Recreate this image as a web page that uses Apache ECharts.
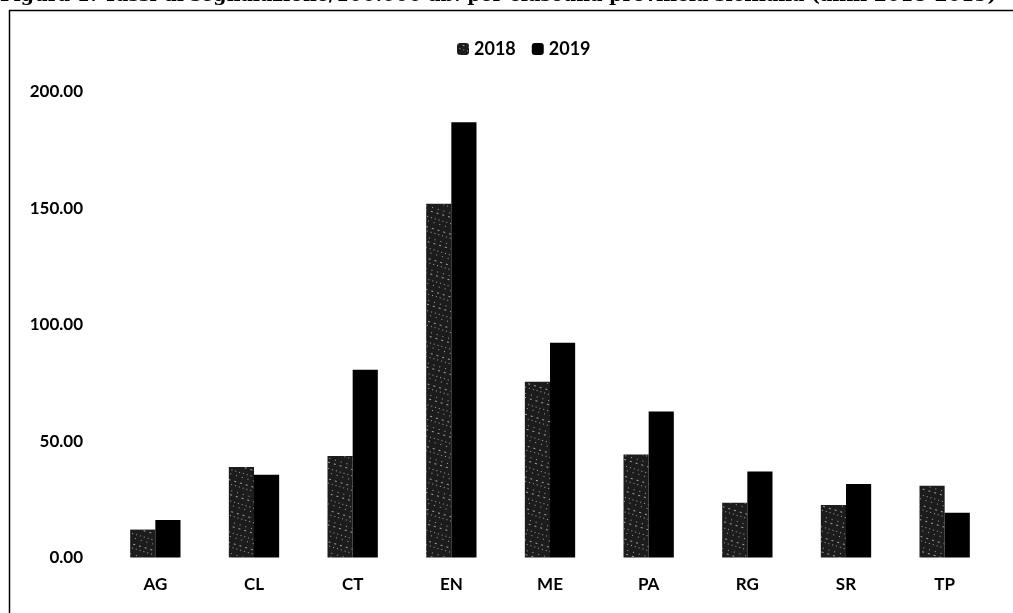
<!DOCTYPE html>
<html>
<head>
<meta charset="utf-8">
<script src="https://cdn.jsdelivr.net/npm/echarts@6/dist/echarts.min.js"></script>
<style>
  html, body { margin: 0; padding: 0; background: #fff; }
  #chart { width: 1013px; height: 613px; }
</style>
</head>
<body>
<div id="chart"></div>
<script>
// Reporting rates per 100,000 inhabitants, by Sicilian province
const provinces = ['AG', 'CL', 'CT', 'EN', 'ME', 'PA', 'RG', 'SR', 'TP'];
const rates2018 = [12.0, 38.9, 43.6, 152.0, 75.5, 44.2, 23.5, 22.6, 30.8];
const rates2019 = [16.1, 35.6, 80.7, 187.0, 92.3, 62.7, 37.0, 31.6, 19.2];
const yTicks = [0, 50, 100, 150, 200];
const seriesNames = ['2018', '2019'];
const figureTitle = 'Figura 1: Tassi di segnalazione/100.000 ab. per ciascuna provincia siciliana (anni 2018-2019)';

const labelFont = { fontFamily: 'Lato', fontWeight: 'bold', fontSize: 17, color: '#000' };

// speckled fill for the 2018 bars
const speckle = {
  symbol: 'rect',
  symbolSize: 0.8,
  color: 'rgba(255,255,255,0.75)',
  dashArrayX: [[1, 3], [1, 5], [2, 4]],
  dashArrayY: [1, 3, 1, 5],
  rotation: 0.3
};

const chart = echarts.init(document.getElementById('chart'), null, { renderer: 'canvas' });
chart.setOption({
  animation: false,
  backgroundColor: '#fff',
  aria: { enabled: false },
  graphic: [
    {
      type: 'text',
      left: 0,
      top: -13,
      style: {
        text: figureTitle,
        fontFamily: 'DejaVu Serif',
        fontWeight: 'bold',
        fontSize: 19,
        fill: '#000'
      }
    },
    {
      type: 'rect',
      shape: { x: 9.5, y: 10.5, width: 1020, height: 640 },
      style: { fill: 'none', stroke: '#000', lineWidth: 1.5 }
    }
  ],
  legend: {
    data: seriesNames,
    top: 35,
    left: 452,
    itemWidth: 12,
    itemHeight: 12,
    itemGap: 16,
    textStyle: Object.assign({}, labelFont, { fontSize: 18 })
  },
  grid: { left: 106, right: 19, top: 92, bottom: 55.5, containLabel: false },
  xAxis: {
    type: 'category',
    data: provinces,
    axisLine: { show: false },
    axisTick: { show: false },
    axisLabel: Object.assign({ margin: 19 }, labelFont)
  },
  yAxis: {
    type: 'value',
    min: yTicks[0],
    max: yTicks[yTicks.length - 1],
    interval: 50,
    splitLine: { show: false },
    axisLine: { show: false },
    axisTick: { show: false },
    axisLabel: Object.assign({
      margin: 23,
      formatter: v => v.toFixed(2)
    }, labelFont)
  },
  series: [
    {
      name: seriesNames[0],
      type: 'bar',
      data: rates2018,
      barGap: '0%',
      barCategoryGap: '49%',
      itemStyle: { color: '#1c1c1c', decal: speckle }
    },
    {
      name: seriesNames[1],
      type: 'bar',
      data: rates2019,
      itemStyle: { color: '#000' }
    }
  ]
});
</script>
</body>
</html>
